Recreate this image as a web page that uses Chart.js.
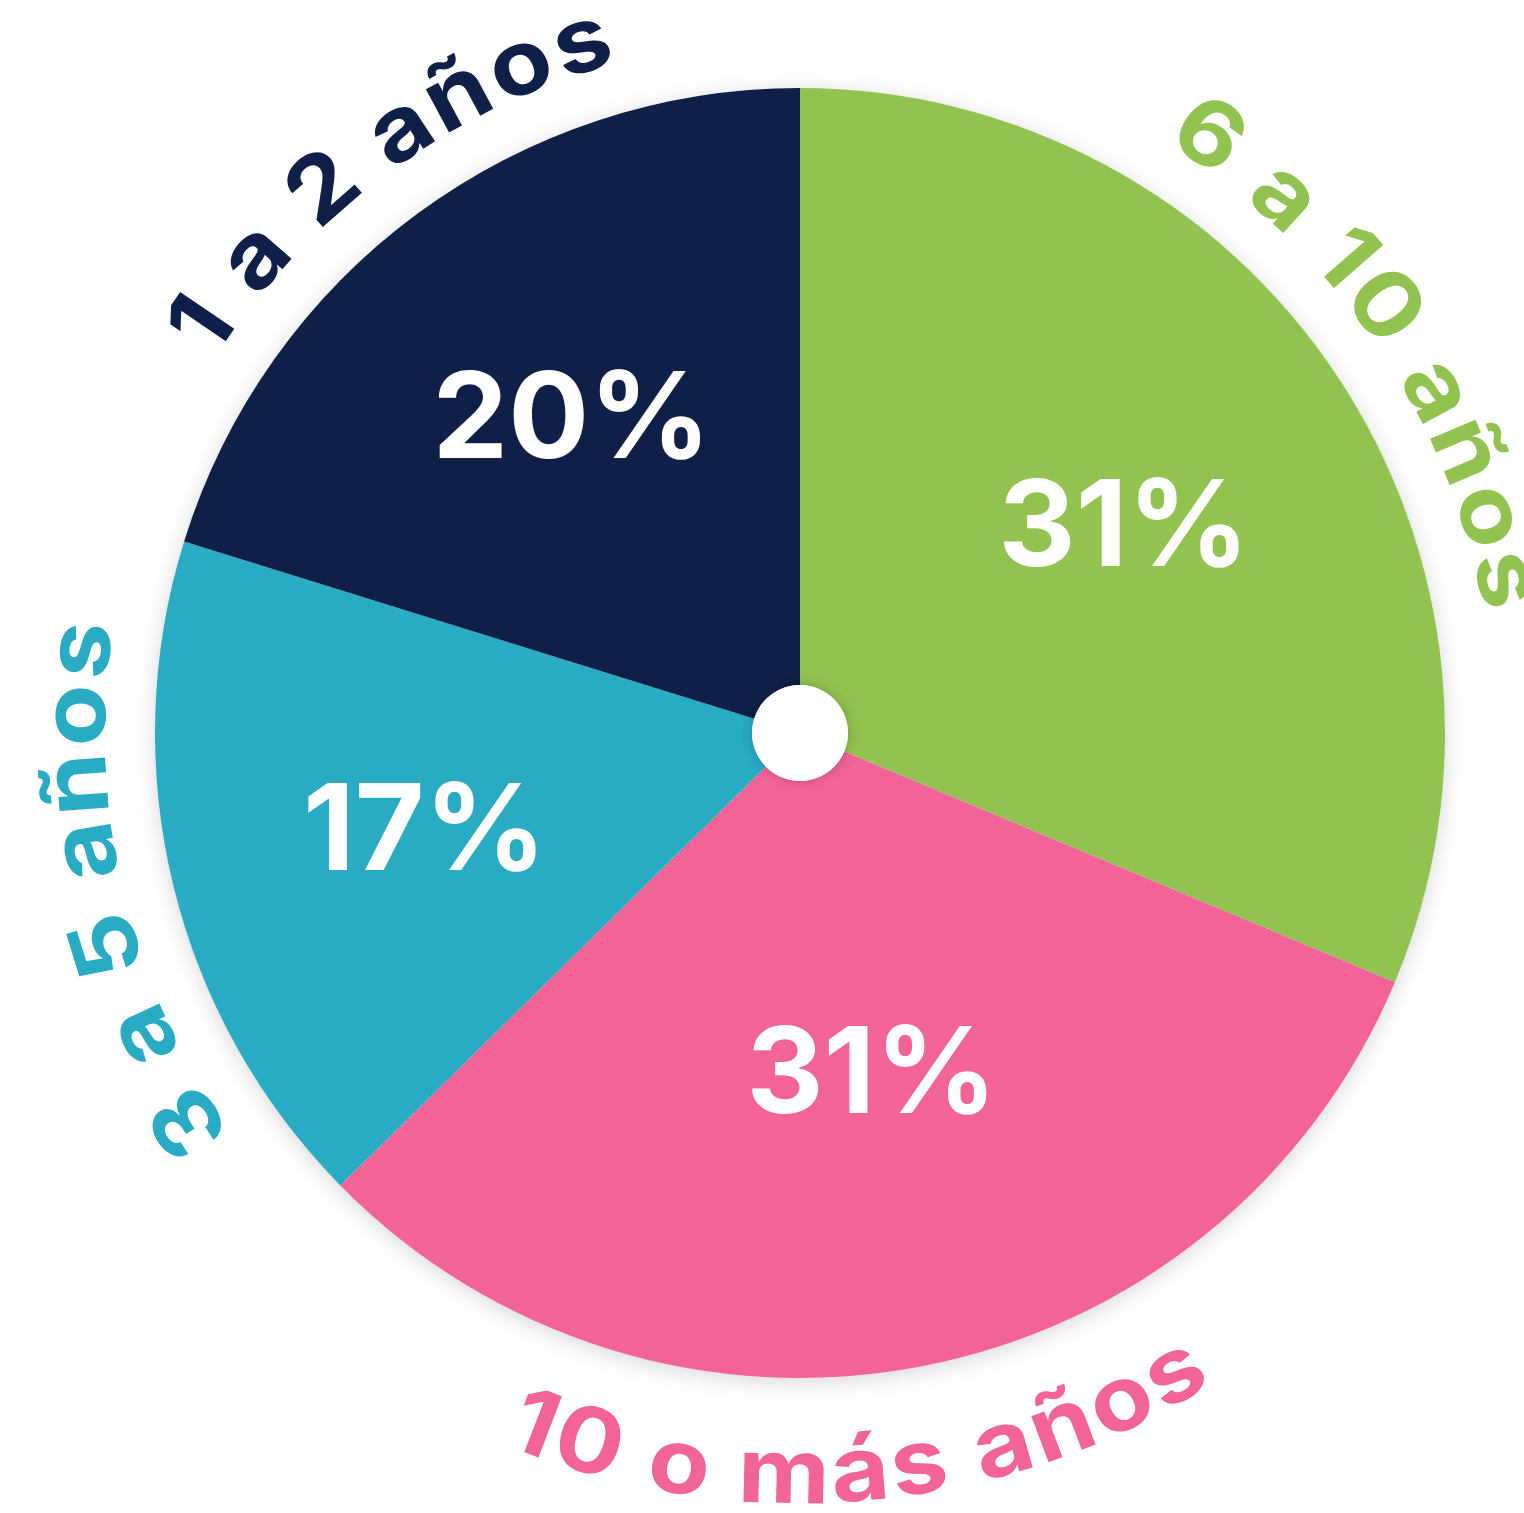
<!DOCTYPE html>
<html>
<head>
<meta charset="utf-8">
<script src="https://cdn.jsdelivr.net/npm/chart.js@4"></script>
<style>
  html, body { margin: 0; padding: 0; background: #fff; }
  #wrap { width: 1524px; height: 1513px; position: relative; }
</style>
</head>
<body>
<div id="wrap"><canvas id="antiguedad"></canvas></div>
<script>
// slices go clockwise from 12 o'clock
const categories = ['6 a 10 años', '10 o más años', '3 a 5 años', '1 a 2 años'];
const percentages = [31, 31, 17, 20];
const sliceColors = ['#92c250', '#f26398', '#29abc4', '#0f1f48'];

// label placement tweaks (style only)
const valueRadius = [0.59, 0.53, 0.61, 0.615];   // fraction of outer radius
const rimShiftDeg = [-0.5, 6, 0.5, 0];            // nudge along the rim

const FONT = 'Inter, "Open Sans", sans-serif';

// soft shadow under the whole pie
const pieShadow = {
  id: 'pieShadow',
  beforeDatasetsDraw(chart) {
    const arc = chart.getDatasetMeta(0).data[0];
    if (!arc) return;
    const ctx = chart.ctx;
    ctx.save();
    ctx.shadowColor = 'rgba(0,0,0,0.16)';
    ctx.shadowBlur = 22;
    ctx.shadowOffsetY = 4;
    ctx.fillStyle = '#fff';
    ctx.beginPath();
    ctx.arc(arc.x, arc.y, arc.outerRadius, 0, Math.PI * 2);
    ctx.fill();
    ctx.restore();
  }
};

// white hub + percentage values inside the slices
const innerLabels = {
  id: 'innerLabels',
  afterDatasetsDraw(chart) {
    const meta = chart.getDatasetMeta(0);
    const ctx = chart.ctx;
    const first = meta.data[0];
    ctx.save();
    ctx.shadowColor = 'rgba(0,0,0,0.22)';
    ctx.shadowBlur = 12;
    ctx.fillStyle = '#fff';
    ctx.beginPath();
    ctx.arc(first.x, first.y, first.innerRadius, 0, Math.PI * 2);
    ctx.fill();
    ctx.restore();

    ctx.save();
    ctx.fillStyle = '#fff';
    ctx.font = '700 120px ' + FONT;
    ctx.textAlign = 'center';
    ctx.textBaseline = 'alphabetic';
    meta.data.forEach((arc, i) => {
      const mid = (arc.startAngle + arc.endAngle) / 2;
      const r = arc.outerRadius * valueRadius[i];
      const x = arc.x + Math.cos(mid) * r;
      const y = arc.y + Math.sin(mid) * r;
      ctx.fillText(percentages[i] + '%', x + 7, y + 44);
    });
    ctx.restore();
  }
};

// category names written along the rim
const rimLabels = {
  id: 'rimLabels',
  afterDraw(chart) {
    const meta = chart.getDatasetMeta(0);
    const ctx = chart.ctx;
    const spacing = 4;
    const stretch = 1.12;
    ctx.save();
    ctx.font = '700 90px ' + FONT;
    ctx.textAlign = 'center';
    ctx.textBaseline = 'alphabetic';
    meta.data.forEach((arc, i) => {
      const text = categories[i];
      const mid = (arc.startAngle + arc.endAngle) / 2 + rimShiftDeg[i] * Math.PI / 180;
      const flip = Math.sin(mid) > 0.6;
      const r = arc.outerRadius + (flip ? 125 : 50);
      const chars = Array.from(text);
      const widths = chars.map(c => ctx.measureText(c).width * stretch);
      const total = widths.reduce((a, b) => a + b, 0) + spacing * (chars.length - 1);
      const dir = flip ? -1 : 1;
      let a = mid - dir * (total / r) / 2;
      ctx.fillStyle = sliceColors[i];
      chars.forEach((c, k) => {
        const half = widths[k] / 2 / r;
        a += dir * half;
        ctx.save();
        ctx.translate(arc.x + Math.cos(a) * r, arc.y + Math.sin(a) * r);
        ctx.rotate(flip ? a - Math.PI / 2 : a + Math.PI / 2);
        ctx.scale(stretch, 1);
        ctx.fillText(c, 0, 0);
        ctx.restore();
        a += dir * (half + spacing / r);
      });
    });
    ctx.restore();
  }
};

async function draw() {
  try { await document.fonts.load('700 90px Inter'); } catch (e) {}
  const ctx = document.getElementById('antiguedad').getContext('2d');
  new Chart(ctx, {
    type: 'doughnut',
    data: {
      labels: categories,
      datasets: [{
        data: percentages,
        backgroundColor: sliceColors,
        borderWidth: 0,
        hoverOffset: 0
      }]
    },
    options: {
      responsive: true,
      maintainAspectRatio: false,
      animation: false,
      cutout: 48,
      layout: { padding: { left: 155, right: 79, top: 88, bottom: 135 } },
      plugins: {
        legend: { display: false },
        tooltip: { enabled: false }
      }
    },
    plugins: [pieShadow, innerLabels, rimLabels]
  });
}

draw();
</script>
</body>
</html>
